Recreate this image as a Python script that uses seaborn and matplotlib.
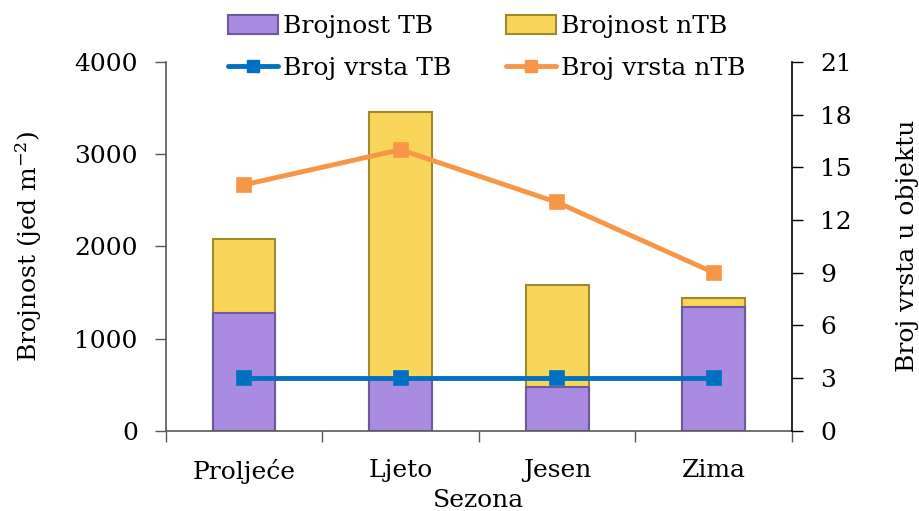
import numpy as np
import pandas as pd
import seaborn as sns
import matplotlib.pyplot as plt
from matplotlib.patches import Patch
from matplotlib.lines import Line2D

seasons = ['Proljeće', 'Ljeto', 'Jesen', 'Zima']
brojnost_tb = [1280, 575, 470, 1345]
brojnost_ntb = [800, 2885, 1115, 95]
vrste_tb = [3, 3, 3, 3]
vrste_ntb = [14, 16, 13, 9]

purple = '#A98CE2'
purple_edge = '#6E5A9A'
yellow = '#F9D65A'
yellow_edge = '#A08A30'
blue = '#0070C0'
orange = '#F79646'

sns.set_theme(style='white')
plt.rcParams['font.family'] = ['DejaVu Serif']
plt.rcParams['text.color'] = 'black'
plt.rcParams['axes.labelcolor'] = 'black'
plt.rcParams['xtick.color'] = 'black'
plt.rcParams['ytick.color'] = 'black'
plt.rcParams['mathtext.default'] = 'regular'
fs = 18

df = pd.DataFrame({
    'Sezona': seasons,
    'tb': brojnost_tb,
    'total': np.array(brojnost_tb) + np.array(brojnost_ntb),
    'vrste_tb': vrste_tb,
    'vrste_ntb': vrste_ntb,
})

fig, ax = plt.subplots(figsize=(9.2, 5.11), dpi=100)
fig.subplots_adjust(left=0.180, right=0.861, bottom=0.157, top=0.879)

# stacked bars: total (yellow) behind, TB (purple) in front
sns.barplot(data=df, x='Sezona', y='total', color=yellow, width=0.4,
            edgecolor=yellow_edge, linewidth=1.5, saturation=1, ax=ax)
sns.barplot(data=df, x='Sezona', y='tb', color=purple, width=0.4,
            edgecolor=purple_edge, linewidth=1.5, saturation=1, ax=ax)

ax.set_xlim(-0.5, 3.5)
ax.set_ylim(0, 4000)
ax.set_yticks(range(0, 4001, 1000))
ax.set_xticks(range(4), labels=seasons)
ax.set_xticks(np.arange(-0.5, 4, 1), minor=True)
ax.tick_params(axis='x', which='major', length=0, pad=20, labelsize=fs)
ax.tick_params(axis='x', which='minor', length=8, width=1, color='#595959', direction='out', bottom=True)
ax.tick_params(axis='y', length=8, width=1, color='#595959', direction='out', left=True, pad=12, labelsize=fs)
ax.set_xlabel('Sezona', fontsize=fs, labelpad=4)
ax.set_ylabel('Brojnost (jed m$^{-2}$)', fontsize=fs, labelpad=22)
for s in ['top', 'right']:
    ax.spines[s].set_visible(False)
for s in ['left', 'bottom']:
    ax.spines[s].set_color('#595959')
    ax.spines[s].set_linewidth(1.2)

ax2 = ax.twinx()
sns.pointplot(data=df, x='Sezona', y='vrste_tb', color=blue, markers='s',
              markersize=9, linewidth=3.5, ax=ax2)
sns.pointplot(data=df, x='Sezona', y='vrste_ntb', color=orange, markers='s',
              markersize=9, linewidth=3.5, ax=ax2)
ax2.set_xlim(-0.5, 3.5)
ax2.set_ylim(0, 21)
ax2.set_yticks(range(0, 22, 3))
ax2.tick_params(axis='y', length=8, width=1, color='black', direction='out', right=True, pad=12, labelsize=fs)
ax2.set_ylabel('Broj vrsta u objektu', fontsize=fs, labelpad=32)
ax2.set_xlabel('')
for s in ['top', 'left', 'bottom']:
    ax2.spines[s].set_visible(False)
ax2.spines['right'].set_color('black')
ax2.spines['right'].set_linewidth(1.2)

handles = [
    Patch(facecolor=purple, edgecolor=purple_edge, linewidth=1.5),
    Line2D([0], [0], color=blue, lw=3.5, marker='s', markersize=9),
    Patch(facecolor=yellow, edgecolor=yellow_edge, linewidth=1.5),
    Line2D([0], [0], color=orange, lw=3.5, marker='s', markersize=9),
]
labels = ['Brojnost TB', 'Broj vrsta TB', 'Brojnost nTB', 'Broj vrsta nTB']
fig.legend(handles, labels, ncol=2, loc='upper center', bbox_to_anchor=(0.529, 1.015),
           frameon=False, fontsize=fs, handlelength=2.0, handletextpad=0.2,
           columnspacing=2.16, labelspacing=0.75, handleheight=0.8)

fig.savefig('out.png', dpi=100)
